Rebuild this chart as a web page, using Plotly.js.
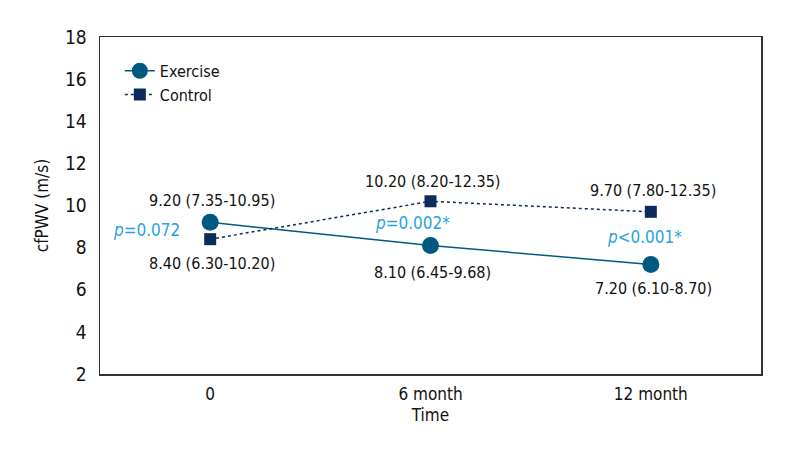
<!DOCTYPE html>
<html>
<head>
<meta charset="utf-8">
<script src="https://cdn.plot.ly/plotly-3.0.1.min.js"></script>
<style>html,body{margin:0;padding:0;background:#fff;}#chart{width:800px;height:460px;}</style>
</head>
<body>
<div id="chart"></div>
<script>
const categories = ["0", "6 month", "12 month"];
const exerciseValues = [9.20, 8.10, 7.20];
const controlValues = [8.40, 10.20, 9.70];
const exerciseLabels = ["9.20 (7.35-10.95)", "8.10 (6.45-9.68)", "7.20 (6.10-8.70)"];
const controlLabels = ["8.40 (6.30-10.20)", "10.20 (8.20-12.35)", "9.70 (7.80-12.35)"];
const pLabels = ["<i>p</i>=0.072", "<i>p</i>=0.002*", "<i>p</i><0.001*"];
const yTicks = [2, 4, 6, 8, 10, 12, 14, 16, 18];

const FONT = "'Liberation Sans Narrow', 'DejaVu Sans Condensed', 'Arial Narrow', sans-serif";
const exColor = "#005a80";
const ctColor = "#0b2c5a";
const pColor = "#29a3e0";

const traces = [
  {
    x: [0, 1, 2], y: exerciseValues, name: "Exercise", type: "scatter", mode: "lines+markers",
    line: {color: exColor, width: 1.5},
    marker: {symbol: "circle", size: 17, color: exColor}
  },
  {
    x: [0, 1, 2], y: controlValues, name: "Control", type: "scatter", mode: "lines+markers",
    line: {color: ctColor, width: 1.5, dash: "3px,3px"},
    marker: {symbol: "square", size: 12, color: ctColor}
  }
];

const exOffsets = [1.06, -1.26, -1.12];
const ctOffsets = [-1.13, 0.92, 0.99];
const pPos = [[-0.29, 8.84], [0.92, 9.17], [1.97, 8.51]];
const annotations = [];
for (let i = 0; i < categories.length; i++) {
  annotations.push({x: i + 0.01, y: exerciseValues[i] + exOffsets[i], text: exerciseLabels[i], showarrow: false,
    font: {family: FONT, size: 16, color: "#111"}});
  annotations.push({x: i + 0.01, y: controlValues[i] + ctOffsets[i], text: controlLabels[i], showarrow: false,
    font: {family: FONT, size: 16, color: "#111"}});
  annotations.push({x: pPos[i][0], y: pPos[i][1], text: pLabels[i], showarrow: false,
    font: {family: FONT, size: 17, color: pColor}});
}

const layout = {
  width: 800, height: 460,
  margin: {l: 100, r: 39, t: 37, b: 86},
  paper_bgcolor: "#fff", plot_bgcolor: "#fff",
  font: {family: FONT, size: 16, color: "#111"},
  showlegend: true,
  legend: {x: 0.03, y: 0.95, xanchor: "left", yanchor: "top", bgcolor: "rgba(0,0,0,0)",
    font: {family: FONT, size: 16, color: "#111"}, tracegroupgap: 0},
  xaxis: {
    range: [-0.5, 2.5], tickmode: "array", tickvals: [0, 1, 2], ticktext: categories,
    showgrid: false, zeroline: false, showline: true, mirror: true, linecolor: "#333", linewidth: 1.5,
    ticks: "", ticklabelstandoff: 4, tickfont: {family: FONT, size: 17, color: "#111"},
    title: {text: "Time", font: {family: FONT, size: 17, color: "#111"}, standoff: 6}
  },
  yaxis: {
    range: [2, 18], tickmode: "array", tickvals: yTicks,
    showgrid: false, zeroline: false, showline: true, mirror: true, linecolor: "#333", linewidth: 1.5,
    ticks: "", ticklabelstandoff: 8, tickfont: {family: FONT, size: 19, color: "#111"},
    title: {text: "cfPWV (m/s)", font: {family: FONT, size: 17, color: "#111"}, standoff: 12}
  },
  annotations: annotations
};

Plotly.newPlot("chart", traces, layout, {displayModeBar: false, staticPlot: true});
</script>
</body>
</html>
